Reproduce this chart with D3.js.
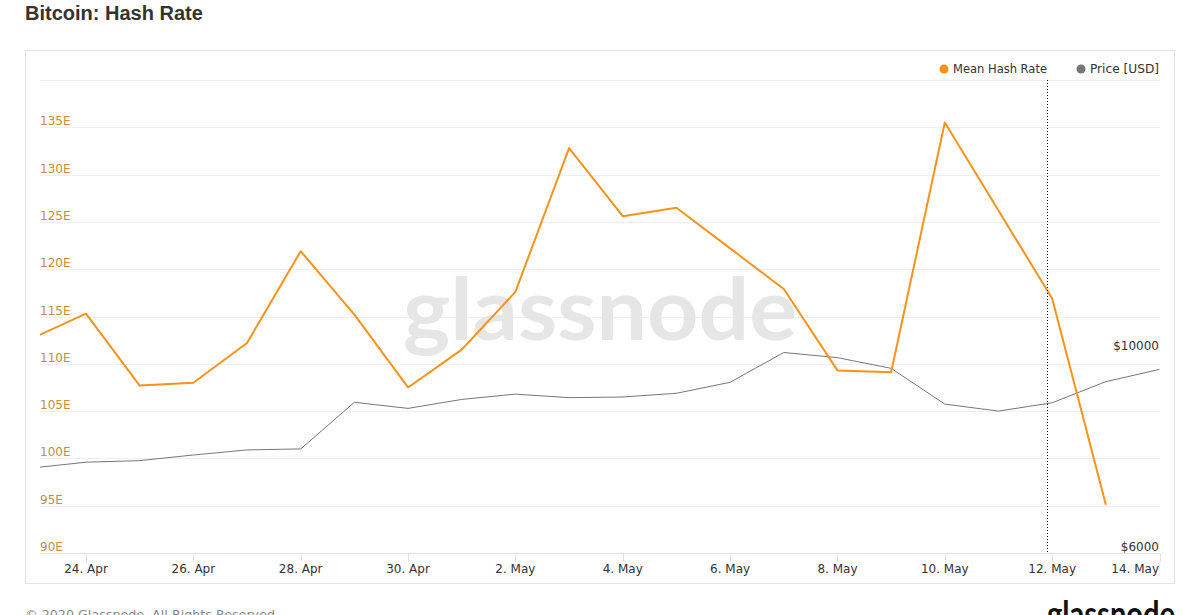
<!DOCTYPE html>
<html>
<head>
<meta charset="utf-8">
<script src="https://cdn.jsdelivr.net/npm/d3@7"></script>
<style>
  html, body { margin: 0; padding: 0; background: #fff; overflow: hidden; }
  svg { display: block; }
</style>
</head>
<body>
<svg id="chart" width="1200" height="615"></svg>
<script>
// ---- data ----
const dates = ["2020-04-23","2020-04-24","2020-04-25","2020-04-26","2020-04-27","2020-04-28",
  "2020-04-29","2020-04-30","2020-05-01","2020-05-02","2020-05-03","2020-05-04","2020-05-05",
  "2020-05-06","2020-05-07","2020-05-08","2020-05-09","2020-05-10","2020-05-11","2020-05-12",
  "2020-05-13","2020-05-14"];
// Mean hash rate (EH/s), 23 Apr – 13 May
const hashRate = [112.7, 115.3, 107.7, 108.0, 112.2, 121.9, 115.2, 107.5, 111.5, 117.6, 132.8,
  125.6, 126.5, 122.2, 117.9, 109.3, 109.1, 135.5, 126.2, 116.9, 95.1];
// Price (USD), 23 Apr – 14 May
const price = [7450, 7560, 7590, 7700, 7800, 7820, 8805, 8670, 8870, 8990, 8910, 8925, 9010,
  9265, 9995, 9865, 9600, 8765, 8610, 8795, 9280, 9575];
const hashTicks = [90, 95, 100, 105, 110, 115, 120, 125, 130, 135];
const hashTickLabels = ["90E","95E","100E","105E","110E","115E","120E","125E","130E","135E"];
const priceTicks = [6000, 10000];
const priceTickLabels = ["$6000", "$10000"];
const xTickDates = ["2020-04-24","2020-04-26","2020-04-28","2020-04-30","2020-05-02","2020-05-04",
  "2020-05-06","2020-05-08","2020-05-10","2020-05-12","2020-05-14"];
const xTickLabels = ["24. Apr","26. Apr","28. Apr","30. Apr","2. May","4. May","6. May",
  "8. May","10. May","12. May","14. May"];
const markerDate = "2020-05-12";
const seriesNames = ["Mean Hash Rate", "Price [USD]"];

// ---- layout ----
const parse = d3.utcParse("%Y-%m-%d");
const plot = { left: 40, right: 1160, top: 80, bottom: 553 };
const ORANGE = "#f7931a", GREY = "#777777", LABEL_OR = "#c48d42", TXT = "#333333";
const FONT = "'DejaVu Sans', sans-serif";

const svg = d3.select("#chart");

const x = d3.scaleUtc()
  .domain([parse("2020-04-24"), parse("2020-05-14")])
  .range([86, 1159.5]);
const yHash = d3.scaleLinear().domain([90, 140]).range([plot.bottom, plot.top]);
const yPrice = d3.scaleLog().domain([6000, 20000]).range([plot.bottom, plot.top]);

// title
svg.append("text")
  .attr("x", 25).attr("y", 20)
  .attr("font-family", "'Liberation Sans', Arial, sans-serif")
  .attr("font-weight", "bold").attr("font-size", 20).attr("fill", TXT)
  .text("Bitcoin: Hash Rate");

// container box
svg.append("rect")
  .attr("x", 25.5).attr("y", 50.5).attr("width", 1149).attr("height", 533)
  .attr("fill", "#fff").attr("stroke", "#e3e3e3").attr("stroke-width", 1);

// gridlines
const gridVals = hashTicks.concat([140]);
svg.append("g").selectAll("line").data(gridVals).join("line")
  .attr("x1", plot.left).attr("x2", plot.right)
  .attr("y1", d => Math.round(yHash(d)) + 0.5).attr("y2", d => Math.round(yHash(d)) + 0.5)
  .attr("stroke", d => d === 90 ? "#e2e2e2" : "#efefef").attr("stroke-width", 1);

// x tick marks
svg.append("g").selectAll("line").data(xTickDates).join("line")
  .attr("x1", d => Math.round(x(parse(d))) + 0.5).attr("x2", d => Math.round(x(parse(d))) + 0.5)
  .attr("y1", plot.bottom).attr("y2", plot.bottom + 9)
  .attr("stroke", "#e2e2e2");

// watermark
svg.append("text")
  .attr("x", 403).attr("y", 340)
  .attr("font-family", "Lato, 'Open Sans', sans-serif")
  .attr("font-weight", "bold")
  .attr("font-size", 86).attr("fill", "#e6e6e6")
  .attr("textLength", 394).attr("lengthAdjust", "spacingAndGlyphs")
  .text("glassnode");

// left axis labels
svg.append("g").selectAll("text").data(hashTicks).join("text")
  .attr("x", plot.left).attr("y", d => yHash(d) - 2)
  .attr("font-family", FONT).attr("font-size", 12).attr("fill", LABEL_OR)
  .text((d, i) => hashTickLabels[i]);

// right axis labels
svg.append("g").selectAll("text").data(priceTicks).join("text")
  .attr("x", 1159).attr("y", d => yPrice(d) - 2)
  .attr("text-anchor", "end")
  .attr("font-family", FONT).attr("font-size", 12).attr("fill", TXT)
  .text((d, i) => priceTickLabels[i]);

// x labels
svg.append("g").selectAll("text").data(xTickDates).join("text")
  .attr("x", d => x(parse(d)))
  .attr("y", 573)
  .attr("font-family", FONT).attr("font-size", 12).attr("fill", TXT)
  .attr("text-anchor", "middle")
  .text((d, i) => xTickLabels[i])
  .each(function() {
    const bb = this.getBBox();
    if (bb.x + bb.width > plot.right) {
      d3.select(this).attr("text-anchor", "end").attr("x", plot.right - 1);
    }
  });

// clip
svg.append("defs").append("clipPath").attr("id", "clip")
  .append("rect").attr("x", plot.left).attr("y", plot.top - 10)
  .attr("width", plot.right - plot.left).attr("height", plot.bottom - plot.top + 20);

const lines = svg.append("g").attr("clip-path", "url(#clip)");

// price line
const priceData = price.map((v, i) => ({ d: parse(dates[i]), v }));
lines.append("path").datum(priceData)
  .attr("fill", "none").attr("stroke", GREY).attr("stroke-width", 1)
  .attr("d", d3.line().x(p => x(p.d)).y(p => yPrice(p.v)));

// hash line
const hashData = hashRate.map((v, i) => ({ d: parse(dates[i]), v }));
lines.append("path").datum(hashData)
  .attr("fill", "none").attr("stroke", ORANGE).attr("stroke-width", 2)
  .attr("stroke-linejoin", "round")
  .attr("d", d3.line().x(p => x(p.d)).y(p => yHash(p.v)));

// dotted marker line
const mx = Math.round(x(parse(markerDate))) - 4.5;
svg.append("line")
  .attr("x1", mx).attr("x2", mx).attr("y1", plot.top).attr("y2", plot.bottom)
  .attr("stroke", "#000").attr("stroke-width", 1).attr("stroke-dasharray", "1,2");

// legend
const legend = svg.append("g");
const legendItems = [
  { name: seriesNames[0], color: ORANGE, x: 944 },
  { name: seriesNames[1], color: GREY, x: 1081 }
];
legendItems.forEach(it => {
  legend.append("circle").attr("cx", it.x).attr("cy", 69).attr("r", 4.5).attr("fill", it.color);
  legend.append("text").attr("x", it.x + 9).attr("y", 73)
    .attr("font-family", FONT).attr("font-size", 12).attr("fill", TXT)
    .attr("textLength", it.x === 944 ? 94 : 69).attr("lengthAdjust", "spacingAndGlyphs")
    .text(it.name);
});

// footer
svg.append("text")
  .attr("x", 25).attr("y", 619)
  .attr("font-family", FONT).attr("font-size", 12.7).attr("fill", "#888")
  .text("© 2020 Glassnode. All Rights Reserved.");
svg.append("text")
  .attr("x", 1047).attr("y", 627)
  .attr("font-family", "Lato, 'Open Sans', sans-serif")
  .attr("font-weight", "bold")
  .attr("font-size", 36).attr("fill", "#111")
  .attr("textLength", 128).attr("lengthAdjust", "spacingAndGlyphs")
  .text("glassnode");
</script>
</body>
</html>
